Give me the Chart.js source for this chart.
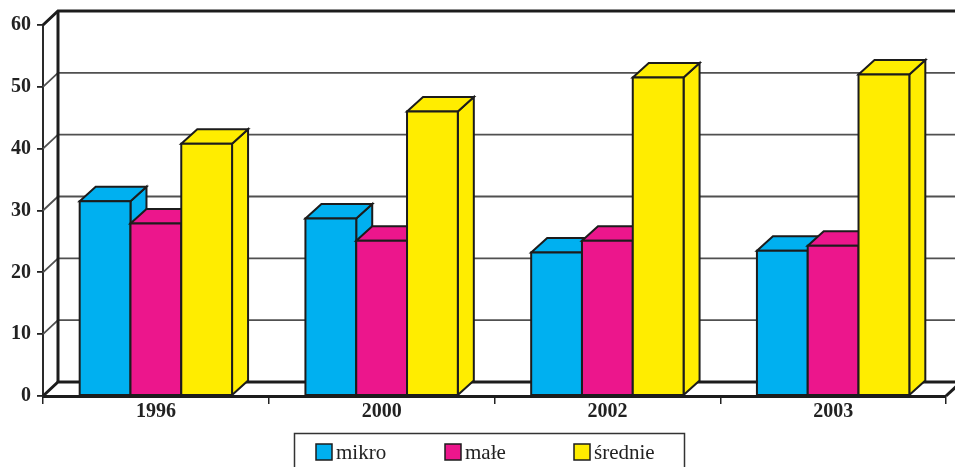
<!DOCTYPE html>
<html><head><meta charset="utf-8">
<script src="https://cdn.jsdelivr.net/npm/chart.js@4.4.1/dist/chart.umd.min.js"></script>
<style>html,body{margin:0;padding:0;background:#fff;overflow:hidden}#wrap{width:955px;height:467px;position:relative}</style>
</head><body><div id="wrap"><canvas id="c" width="955" height="467"></canvas></div>
<script>
const categories = ['1996', '2000', '2002', '2003'];
const seriesNames = ['mikro', 'małe', 'średnie'];
const mikro = [31.5, 28.7, 23.2, 23.5];
const male = [27.9, 25.1, 25.1, 24.3];
const srednie = [40.8, 46.0, 51.5, 52.0];
const seriesColors = ['#00B0F0', '#EC168C', '#FFED00'];
const yTickValues = [0, 10, 20, 30, 40, 50, 60];

const WDX = 15, WDY = 14;   // wall depth
const BDX = 16, BDY = 14.5; // bar depth
const INK = '#1c1c1c';

const wallPlugin = {
  id: 'wall',
  beforeDatasetsDraw(chart) {
    const { ctx, chartArea: a, scales: { y } } = chart;
    const W = chart.width;
    ctx.save();
    ctx.lineCap = 'butt';
    yTickValues.forEach(v => {
      const yf = y.getPixelForValue(v);
      const yb = yf - WDY;
      const major = (v === yTickValues[0] || v === yTickValues[yTickValues.length - 1]);
      ctx.strokeStyle = major ? INK : '#505050';
      ctx.lineWidth = major ? 3 : 1.8;
      ctx.beginPath();
      ctx.moveTo(a.left, yf);
      ctx.lineTo(a.left + WDX, yb);
      ctx.lineTo(W, yb);
      ctx.stroke();
    });
    const yTop = y.getPixelForValue(yTickValues[yTickValues.length - 1]) - WDY;
    const yBot = y.getPixelForValue(0) - WDY;
    ctx.strokeStyle = INK; ctx.lineWidth = 3;
    ctx.beginPath();
    ctx.moveTo(a.left + WDX, yTop); ctx.lineTo(a.left + WDX, yBot);
    ctx.stroke();
    ctx.beginPath();
    ctx.moveTo(a.right, a.bottom); ctx.lineTo(a.right + WDX, a.bottom - WDY);
    ctx.stroke();
    ctx.restore();
  },
  beforeDatasetDraw() { return false; },
  afterDatasetsDraw(chart) {
    const ctx = chart.ctx;
    const metas = chart.data.datasets.map((d, i) => chart.getDatasetMeta(i));
    ctx.save();
    ctx.lineWidth = 2;
    ctx.lineJoin = 'miter';
    ctx.strokeStyle = INK;
    for (let c = 0; c < categories.length; c++) {
      metas.forEach((meta, d) => {
        const el = meta.data[c];
        const l = el.x - el.width / 2, r = el.x + el.width / 2;
        const t = el.y, b = el.base;
        ctx.fillStyle = seriesColors[d];
        // side
        ctx.beginPath();
        ctx.moveTo(r, t); ctx.lineTo(r + BDX, t - BDY); ctx.lineTo(r + BDX, b - BDY); ctx.lineTo(r, b); ctx.closePath();
        ctx.fill(); ctx.stroke();
        // top
        ctx.beginPath();
        ctx.moveTo(l, t); ctx.lineTo(l + BDX, t - BDY); ctx.lineTo(r + BDX, t - BDY); ctx.lineTo(r, t); ctx.closePath();
        ctx.fill(); ctx.stroke();
        // front
        ctx.beginPath();
        ctx.rect(l, t, r - l, b - t);
        ctx.fill(); ctx.stroke();
      });
    }
    ctx.restore();
  },
  afterDraw(chart) {
    const ctx = chart.ctx;
    ctx.save();
    ctx.strokeStyle = '#333'; ctx.lineWidth = 1.5;
    ctx.strokeRect(294.5, 433.5, 390, 40);
    chart.data.datasets.forEach((ds, i) => {
      const bx = 316 + i * 129;
      ctx.fillStyle = seriesColors[i];
      ctx.fillRect(bx, 444, 16, 16);
      ctx.strokeStyle = INK; ctx.lineWidth = 1.5;
      ctx.strokeRect(bx, 444, 16, 16);
      ctx.fillStyle = '#222';
      ctx.font = '21px "Liberation Serif"';
      ctx.textBaseline = 'alphabetic';
      ctx.textAlign = 'left';
      ctx.fillText(ds.label, bx + 20, 459);
    });
    ctx.restore();
  }
};

new Chart(document.getElementById('c'), {
  type: 'bar',
  data: {
    labels: categories,
    datasets: [
      { label: seriesNames[0], data: mikro, backgroundColor: seriesColors[0] },
      { label: seriesNames[1], data: male, backgroundColor: seriesColors[1] },
      { label: seriesNames[2], data: srednie, backgroundColor: seriesColors[2] }
    ]
  },
  options: {
    responsive: false,
    animation: false,
    layout: { padding: { top: 25, right: 9, left: 0, bottom: 0 } },
    datasets: { bar: { barPercentage: 1, categoryPercentage: 0.675 } },
    plugins: { legend: { display: false }, tooltip: { enabled: false } },
    scales: {
      x: {
        afterFit(s) { s.height = 71; },
        grid: { offset: true, drawOnChartArea: false, drawTicks: true, tickLength: 8, color: '#222', lineWidth: 1.5 },
        border: { display: true, color: INK, width: 3 },
        ticks: { color: '#222', padding: -4, font: { family: '"Liberation Serif"', size: 20, weight: 'bold' } }
      },
      y: {
        min: 0, max: 60,
        afterFit(s) { s.width = 43; },
        afterBuildTicks(s) { s.ticks = yTickValues.map(v => ({ value: v })); },
        grid: { drawOnChartArea: false, drawTicks: true, tickLength: 6, color: '#222', lineWidth: 1.8 },
        border: { display: true, color: '#2a2a2a', width: 2 },
        ticks: { color: '#222', padding: 6, font: { family: '"Liberation Serif"', size: 20, weight: 'bold' } }
      }
    }
  },
  plugins: [wallPlugin]
});
</script>
</body></html>
